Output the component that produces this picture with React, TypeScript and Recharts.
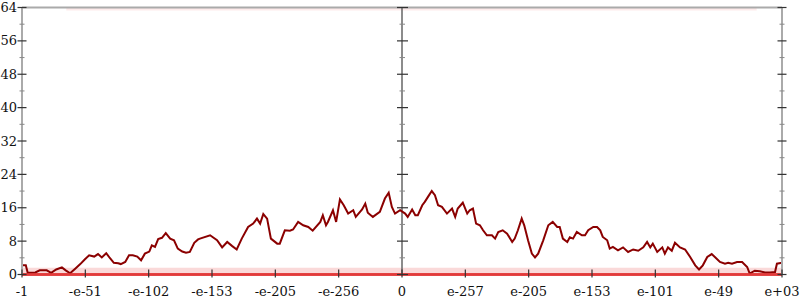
import React from "react";
import {
  ComposedChart,
  Line,
  Scatter,
  XAxis,
  YAxis,
  ReferenceLine,
  ReferenceArea,
} from "recharts";

const xTickValues = [-6, -5, -4, -3, -2, -1, 0, 1, 2, 3, 4, 5, 6];
const xTickLabels = ["-1", "-e-51", "-e-102", "-e-153", "-e-205", "-e-256", "0", "e-257", "e-205", "e-153", "e-101", "e-49", "e+03"];
const yTicks = [0, 4, 8, 12, 16, 20, 24, 28, 32, 36, 40, 44, 48, 52, 56, 60, 64];

const lineX = [
  -6.0, -5.94, -5.91, -5.79, -5.72, -5.61, -5.54, -5.46, -5.37, -5.31, -5.24, -5.16, -5.08, -5.01, -4.94, -4.86,
  -4.8, -4.74, -4.67, -4.61, -4.55, -4.48, -4.44, -4.37, -4.31, -4.25, -4.18, -4.12, -4.06, -3.99, -3.95, -3.9,
  -3.85, -3.79, -3.73, -3.66, -3.6, -3.54, -3.47, -3.41, -3.35, -3.28, -3.22, -3.19, -3.03, -2.92, -2.84, -2.76,
  -2.68, -2.61, -2.53, -2.43, -2.35, -2.29, -2.24, -2.19, -2.13, -2.07, -1.97, -1.93, -1.85, -1.77, -1.72, -1.64,
  -1.56, -1.48, -1.41, -1.29, -1.25, -1.2, -1.17, -1.09, -1.04, -0.98, -0.92, -0.85, -0.77, -0.73, -0.63, -0.58,
  -0.54, -0.46, -0.35, -0.27, -0.21, -0.16, -0.11, -0.03, 0.05, 0.09, 0.16, 0.21, 0.25, 0.32, 0.36, 0.41, 0.47,
  0.52, 0.57, 0.63, 0.71, 0.79, 0.84, 0.88, 0.96, 1.03, 1.07, 1.12, 1.17, 1.23, 1.28, 1.34, 1.42, 1.47, 1.52,
  1.59, 1.66, 1.74, 1.78, 1.83, 1.89, 1.93, 1.99, 2.05, 2.1, 2.15, 2.23, 2.31, 2.38, 2.45, 2.49, 2.54, 2.61,
  2.65, 2.7, 2.76, 2.84, 2.89, 2.94, 3.02, 3.08, 3.13, 3.17, 3.24, 3.28, 3.33, 3.41, 3.49, 3.57, 3.65, 3.73,
  3.81, 3.87, 3.92, 3.96, 4.03, 4.11, 4.15, 4.2, 4.26, 4.31, 4.39, 4.47, 4.55, 4.63, 4.69, 4.75, 4.82, 4.89,
  4.94, 5.02, 5.1, 5.15, 5.21, 5.29, 5.37, 5.45, 5.49, 5.57, 5.65, 5.73, 5.81, 5.89, 5.92, 6.0,
];
const lineY = [
  2.2, 2.2, 0.4, 0.5, 1.0, 1.0, 0.4, 1.2, 1.7, 1.0, 0.3, 1.4, 2.5, 3.6, 4.6, 4.3,
  4.9, 4.1, 5.1, 3.9, 2.8, 2.7, 2.5, 3.0, 4.6, 4.6, 4.3, 3.4, 5.0, 5.5, 7.0, 6.6,
  8.5, 8.8, 9.9, 8.6, 8.2, 6.2, 5.5, 5.2, 5.4, 7.6, 8.4, 8.6, 9.4, 8.2, 6.5, 7.8,
  6.8, 6.0, 8.6, 11.4, 12.2, 13.4, 12.2, 14.5, 13.4, 8.6, 7.4, 7.4, 10.6, 10.5, 10.8, 12.6,
  11.8, 11.4, 10.5, 12.6, 14.2, 11.8, 12.6, 15.4, 12.6, 18.0, 16.6, 14.6, 15.4, 13.8, 15.6, 17.0,
  14.8, 13.8, 15.0, 18.2, 19.6, 16.2, 14.6, 15.4, 14.6, 13.8, 15.6, 14.2, 14.2, 16.6, 17.4, 18.6, 20.0,
  19.0, 16.6, 16.2, 14.6, 15.8, 13.8, 15.8, 17.2, 14.6, 15.4, 15.8, 12.2, 11.8, 10.6, 9.4, 9.4, 8.6, 10.2,
  10.6, 9.8, 7.8, 8.6, 10.6, 13.4, 11.8, 8.2, 5.0, 4.1, 5.0, 8.2, 11.8, 12.6, 11.4, 11.4, 8.6, 7.8,
  8.9, 8.6, 10.2, 9.4, 9.4, 10.6, 11.4, 11.4, 10.6, 9.0, 8.2, 6.2, 6.6, 5.8, 6.5, 5.4, 6.0, 5.7,
  6.5, 7.8, 6.5, 7.4, 5.4, 6.5, 5.0, 6.5, 5.7, 7.6, 6.5, 6.0, 4.2, 2.2, 1.2, 2.2, 4.2, 4.9,
  4.2, 3.0, 2.6, 2.8, 2.6, 3.0, 3.0, 1.8, 0.2, 0.9, 0.8, 0.5, 0.5, 0.6, 2.6, 2.8,
];

const lineData = lineX.map((x, i) => ({ x, y: lineY[i] }));
const midAxisTicks = yTicks.map((v) => ({ x: 0, y: v }));

const FONT = "'DejaVu Serif', 'Liberation Serif', serif";
const textStyle = { fontFamily: FONT, fontSize: 13 };

const LeftTick = (props: any) => {
  const { x, y, payload } = props;
  const major = payload.value % 8 === 0;
  return (
    <g>
      {major ? (
        <>
          <line x1={x - 4.5} x2={x + 4.5} y1={y} y2={y} stroke="#333" strokeWidth={1.2} />
          <text x={x - 5} y={y} dy={4.5} textAnchor="end" style={textStyle} fill="#111">
            {payload.value}
          </text>
        </>
      ) : (
        <line x1={x - 2.5} x2={x + 2.5} y1={y} y2={y} stroke="#888" strokeWidth={1} />
      )}
    </g>
  );
};

const RightTick = (props: any) => {
  const { x, y, payload } = props;
  const major = payload.value % 8 === 0;
  return major ? (
    <line x1={x - 4.5} x2={x + 4.5} y1={y} y2={y} stroke="#333" strokeWidth={1.2} />
  ) : (
    <line x1={x - 2.5} x2={x + 2.5} y1={y} y2={y} stroke="#888" strokeWidth={1} />
  );
};

const BottomTick = (props: any) => {
  const { x, y, index } = props;
  return (
    <g>
      <line x1={x} x2={x} y1={y - 5} y2={y + 3} stroke="#333" strokeWidth={1.2} />
      <text x={x} y={y + 21} textAnchor="middle" style={textStyle} fill="#111">
        {xTickLabels[index] ?? ""}
      </text>
    </g>
  );
};

const MidTickShape = (props: any) => {
  const { cx, cy, payload } = props;
  const major = payload.y % 8 === 0;
  return major ? (
    <line x1={cx - 5} x2={cx + 6} y1={cy} y2={cy} stroke="#333" strokeWidth={1.2} />
  ) : (
    <line x1={cx - 2.5} x2={cx + 3} y1={cy} y2={cy} stroke="#888" strokeWidth={1} />
  );
};

export default function App() {
  return (
    <div style={{ position: "absolute", left: 0, top: 0, width: 800, height: 300, background: "#fff" }}>
      <ComposedChart width={800} height={300} margin={{ top: 7.5, right: 0, bottom: 0, left: 0 }}>
        <XAxis
          type="number"
          dataKey="x"
          domain={[-6, 6]}
          ticks={xTickValues}
          interval={0}
          height={25.5}
          tickSize={0}
          tickMargin={0}
          axisLine={{ stroke: "#e23a3a", strokeWidth: 2.5 }}
          tickLine={false}
          tick={<BottomTick />}
          allowDataOverflow
        />
        <YAxis
          yAxisId="l"
          type="number"
          domain={[0, 64]}
          ticks={yTicks}
          interval={0}
          width={22}
          tickSize={0}
          tickMargin={0}
          axisLine={{ stroke: "#aaa", strokeWidth: 2 }}
          tickLine={false}
          tick={<LeftTick />}
        />
        <YAxis
          yAxisId="r"
          orientation="right"
          type="number"
          domain={[0, 64]}
          ticks={yTicks}
          interval={0}
          width={18}
          tickSize={0}
          tickMargin={0}
          axisLine={{ stroke: "#aaa", strokeWidth: 2 }}
          tickLine={false}
          tick={<RightTick />}
        />
        <ReferenceLine yAxisId="l" y={64} stroke="#aaa" strokeWidth={2} />
        <ReferenceArea yAxisId="l" x1={-5.3} x2={5.6} y1={63.3} y2={64} fill="#f07070" fillOpacity={0.14} stroke="none" />
        <ReferenceArea yAxisId="l" x1={-6} x2={6} y1={0} y2={1.6} fill="#f08080" fillOpacity={0.3} stroke="none" />
        <ReferenceLine yAxisId="l" y={0} stroke="#e23a3a" strokeWidth={2.5} />
        <ReferenceLine yAxisId="l" x={0} stroke="#666" strokeWidth={1.5} />
        <Scatter
          yAxisId="r"
          data={midAxisTicks}
          dataKey="y"
          shape={<MidTickShape />}
          isAnimationActive={false}
        />
        <Line
          yAxisId="l"
          data={lineData}
          dataKey="y"
          type="linear"
          stroke="#8b0000"
          strokeWidth={2}
          dot={false}
          isAnimationActive={false}
        />
      </ComposedChart>
    </div>
  );
}
